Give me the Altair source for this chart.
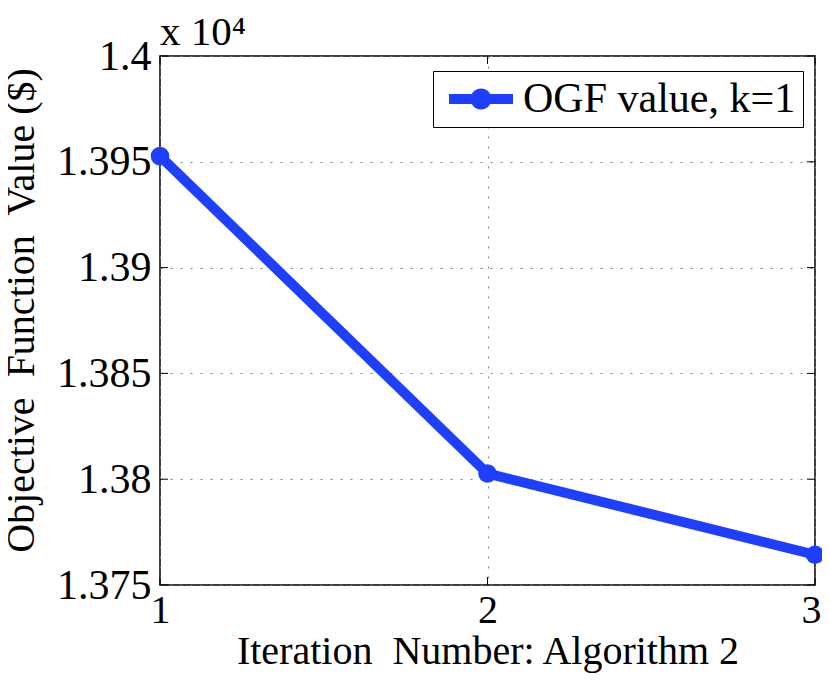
import altair as alt
import pandas as pd

# Data (values shown in units of 10^4)
iterations = [1, 2, 3]
ogf_values = [1.39527, 1.38027, 1.37643]
series_name = "OGF value, k=1"
y_ticks = [1.375, 1.38, 1.385, 1.39, 1.395, 1.4]
x_ticks = [1, 2, 3]

W, H = 655, 529
FONT = "Liberation Serif"
BLUE = "#1f3fff"

df = pd.DataFrame({"iter": iterations, "val": ogf_values, "series": [series_name] * 3})
yt = pd.DataFrame({"val": y_ticks})
xt = pd.DataFrame({"iter": x_ticks})

xscale = alt.Scale(domain=[1, 3], nice=False, zero=False)
yscale = alt.Scale(domain=[1.375, 1.4], nice=False, zero=False)

xaxis = alt.Axis(values=x_ticks, labelExpr="format(datum.value, 'd')",
                 title="Iteration\u00a0 Number: Algorithm 2",
                 labelFont=FONT, labelFontSize=40, labelColor="black", labelPadding=5,
                 labelOffset={"condition": {"test": "datum.value == 3", "value": -4}, "value": 0},
                 titleFont=FONT, titleFontSize=40, titleColor="black", titleFontWeight="normal",
                 titlePadding=1, tickSize=0, domain=False, grid=True, labelOverlap=False,
                 gridColor="#808080", gridDash=[2, 8], gridWidth=1, labelFlush=False)
yaxis = alt.Axis(values=y_ticks, labelExpr="format(datum.value, '.3~f')",
                 title="Objective\u00a0 Function\u00a0 Value ($)",
                 labelFont=FONT, labelFontSize=42, labelColor="black", labelPadding=9,
                 titleFont=FONT, titleFontSize=40, titleColor="black", titleFontWeight="normal",
                 titlePadding=15, titleY=254, tickSize=0, domain=False, grid=True,
                 labelOverlap=False,
                 gridColor="#808080", gridDash=[2, 8], gridWidth=1, labelFlush=False)

X = alt.X("iter:Q", scale=xscale, axis=xaxis)
Y = alt.Y("val:Q", scale=yscale, axis=yaxis)

line = alt.Chart(df).mark_line(color=BLUE, strokeWidth=10).encode(x=X, y=Y)

# legend symbol: thick line with a dot (unit = 16px, layout centre at 16px)
sym_path = ("M-0.75,-0.3125L3.25,-0.3125L3.25,0.3125L-0.75,0.3125Z "
            "M1.906,0A0.656,0.656,0,1,1,0.594,0A0.656,0.656,0,1,1,1.906,0Z")

points = alt.Chart(df).mark_point(filled=True, size=346, opacity=1).encode(
    x=X, y=Y,
    color=alt.Color("series:N", scale=alt.Scale(domain=[series_name], range=[BLUE]),
                    legend=alt.Legend(title=None, orient="none", legendX=273, legendY=15,
                                      symbolType=sym_path, symbolSize=1024,
                                      symbolStrokeWidth=0, labelOffset=41,
                                      labelFont=FONT, labelFontSize=42, labelColor="black",
                                      strokeColor="black", fillColor="white", padding=7,
                                      labelLimit=1000)),
)

# inward ticks (MATLAB box style)
tick_len = 8
yl = alt.Chart(yt).mark_rule(color="black", strokeWidth=1).encode(
    y=Y, x=alt.value(0), x2=alt.value(tick_len))
yr = alt.Chart(yt).mark_rule(color="black", strokeWidth=1).encode(
    y=Y, x=alt.value(W - tick_len), x2=alt.value(W))
xb = alt.Chart(xt).mark_rule(color="black", strokeWidth=1).encode(
    x=X, y=alt.value(H - tick_len), y2=alt.value(H))
xtp = alt.Chart(xt).mark_rule(color="black", strokeWidth=1).encode(
    x=X, y=alt.value(0), y2=alt.value(tick_len))

chart = alt.layer(line, yl, yr, xb, xtp, points).properties(
    width=W, height=H,
    title=alt.TitleParams("x 10\u2074", anchor="start", frame="group", font=FONT,
                          fontSize=41, fontWeight="normal", color="black", offset=2, dy=21),
    autosize=alt.AutoSizeParams(type="none"),
    padding={"left": 152, "top": 48, "right": 7, "bottom": 88},
    background="white",
).configure_view(stroke="black", strokeWidth=1.5)

chart.save("out.html", embed_options={"renderer": "svg", "actions": False})
